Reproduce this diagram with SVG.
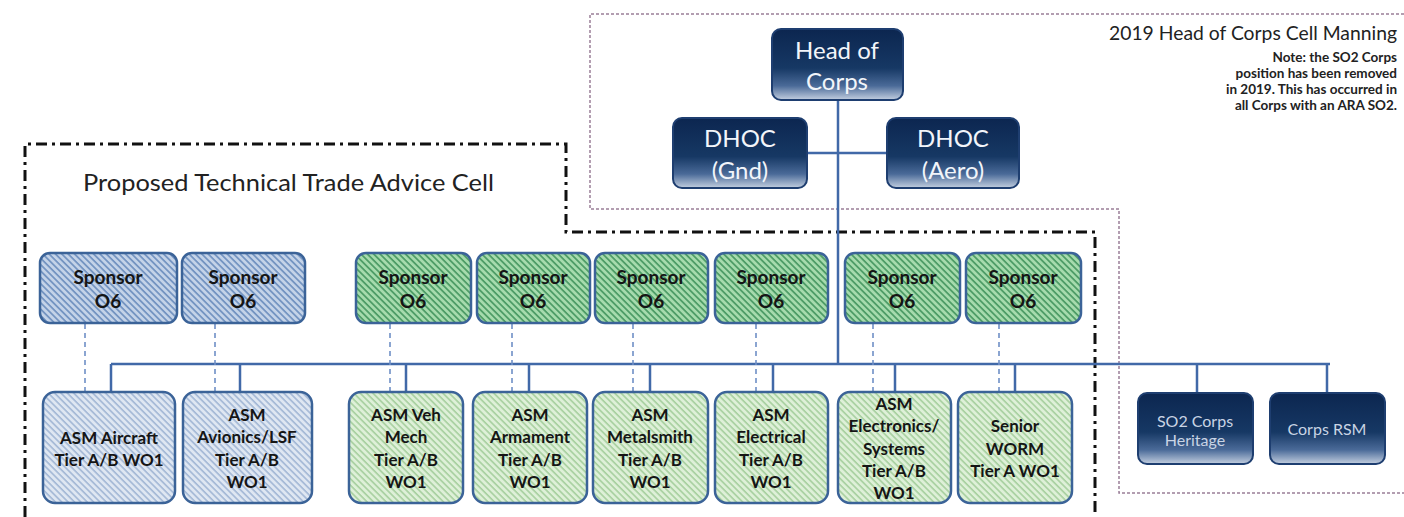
<svg xmlns="http://www.w3.org/2000/svg" width="1404" height="517" viewBox="0 0 1404 517">
<style>
.hb{stroke:#3b6398;stroke-width:2.5}
.dk{stroke:#1e3e70;stroke-width:2}
.st{font-family:Lato,"Liberation Sans",sans-serif;font-weight:bold;fill:#151515;text-anchor:middle}
.s1{font-size:19px}
.s2{font-size:17px}
.wt{font-family:Lato,"Liberation Sans",sans-serif;fill:#f2f5fa;text-anchor:middle}
.big{font-size:24px}
.sm{font-size:16px;fill:#c9d4e4}
.ln{stroke:#4169a8;stroke-width:2.5;fill:none}
.dl{stroke:#6f8fc6;stroke-width:1.6;stroke-dasharray:5 4;fill:none}
.hdr{font-family:Lato,"Liberation Sans",sans-serif;fill:#222}
.note{font-family:Lato,"Liberation Sans",sans-serif;font-size:13.5px;font-weight:bold;fill:#222;text-anchor:end}
</style>
<defs>
<pattern id="pb1" width="4.5" height="4.5" patternUnits="userSpaceOnUse" patternTransform="rotate(45)"><rect width="4.5" height="4.5" fill="#c4d3e8"/><line x1="0" y1="0.8" x2="4.5" y2="0.8" stroke="#7192c0" stroke-width="1.8"/></pattern>
<pattern id="pb2" width="4.5" height="4.5" patternUnits="userSpaceOnUse" patternTransform="rotate(45)"><rect width="4.5" height="4.5" fill="#dfe7f2"/><line x1="0" y1="0.8" x2="4.5" y2="0.8" stroke="#a2b7d5" stroke-width="1.6"/></pattern>
<pattern id="pg1" width="4.5" height="4.5" patternUnits="userSpaceOnUse" patternTransform="rotate(45)"><rect width="4.5" height="4.5" fill="#a6dbad"/><line x1="0" y1="0.8" x2="4.5" y2="0.8" stroke="#4a9a64" stroke-width="1.8"/></pattern>
<pattern id="pg2" width="4.5" height="4.5" patternUnits="userSpaceOnUse" patternTransform="rotate(45)"><rect width="4.5" height="4.5" fill="#def0d8"/><line x1="0" y1="0.8" x2="4.5" y2="0.8" stroke="#a6cf9e" stroke-width="1.6"/></pattern>
<linearGradient id="gd" x1="0" y1="0" x2="0" y2="1">
<stop offset="0" stop-color="#0c2650"/>
<stop offset="0.55" stop-color="#163864"/>
<stop offset="0.8" stop-color="#4a6a98"/>
<stop offset="1" stop-color="#c3cfe0"/>
</linearGradient>
</defs>
<rect width="1404" height="517" fill="#ffffff"/>

<g id="frames">
<path d="M1404,14 H590 V209 H1119 V493 H1404" fill="none" stroke="#9a7f98" stroke-width="1.5" stroke-dasharray="3 2"/>
<path d="M25,517 V144 H566 V232 H1095 V517" fill="none" stroke="#111" stroke-width="3" stroke-dasharray="11 5 3 5"/>
</g>

<g id="labels">
<text class="hdr" x="83" y="191" font-size="24" textLength="411" lengthAdjust="spacingAndGlyphs">Proposed Technical Trade Advice Cell</text>
<text class="hdr" x="1109" y="40" font-size="19" textLength="288" lengthAdjust="spacingAndGlyphs">2019 Head of Corps Cell Manning</text>
<text class="note" x="1397" y="62">Note: the SO2 Corps</text>
<text class="note" x="1397" y="78">position has been removed</text>
<text class="note" x="1397" y="94">in 2019. This has occurred in</text>
<text class="note" x="1397" y="110">all Corps with an ARA SO2.</text>
</g>

<g id="connectors">
<path class="ln" d="M838,100 V364 M807,153 H887 M111,364 H1330"/>
<path class="ln" d="M111,364 V392 M240,364 V392 M406,364 V392 M529,364 V392 M650,364 V392 M773,364 V392 M895,364 V392 M1015,364 V392 M1197,364 V393 M1327,364 V393"/>
<path class="dl" d="M85,324 V392 M215,324 V392 M390,324 V392 M512,324 V392 M633,324 V392 M756,324 V392 M873,324 V392 M999,324 V392"/>
</g>

<g id="head"><rect class="dk" x="772" y="29" width="131" height="71" rx="9" fill="url(#gd)"/><text class="wt big" x="837" y="59">Head of</text><text class="wt big" x="837" y="90">Corps</text></g>
<g id="dhoc-gnd"><rect class="dk" x="673" y="118" width="134" height="70" rx="9" fill="url(#gd)"/><text class="wt big" x="740" y="147">DHOC</text><text class="wt big" x="740" y="179">(Gnd)</text></g>
<g id="dhoc-aero"><rect class="dk" x="887" y="118" width="132" height="70" rx="9" fill="url(#gd)"/><text class="wt big" x="953" y="147">DHOC</text><text class="wt big" x="953" y="179">(Aero)</text></g>
<g id="so2-heritage"><rect class="dk" x="1138" y="393" width="115" height="71" rx="9" fill="url(#gd)"/><text class="wt sm" x="1195" y="427">SO2 Corps</text><text class="wt sm" x="1195" y="446">Heritage</text></g>
<g id="corps-rsm"><rect class="dk" x="1270" y="393" width="115" height="71" rx="9" fill="url(#gd)"/><text class="wt sm" x="1327" y="435">Corps RSM</text></g>

<g id="sponsor1"><rect class="hb" x="40" y="253" width="137" height="70" rx="10" fill="url(#pb1)"/><text class="st s1" x="108" y="284">Sponsor</text><text class="st s1" x="108" y="308">O6</text></g>
<g id="sponsor2"><rect class="hb" x="182" y="253" width="123" height="70" rx="10" fill="url(#pb1)"/><text class="st s1" x="243" y="284">Sponsor</text><text class="st s1" x="243" y="308">O6</text></g>
<g id="sponsor3"><rect class="hb" x="356" y="253" width="115" height="70" rx="10" fill="url(#pg1)"/><text class="st s1" x="413" y="284">Sponsor</text><text class="st s1" x="413" y="308">O6</text></g>
<g id="sponsor4"><rect class="hb" x="477" y="253" width="113" height="70" rx="10" fill="url(#pg1)"/><text class="st s1" x="533" y="284">Sponsor</text><text class="st s1" x="533" y="308">O6</text></g>
<g id="sponsor5"><rect class="hb" x="595" y="253" width="113" height="70" rx="10" fill="url(#pg1)"/><text class="st s1" x="651" y="284">Sponsor</text><text class="st s1" x="651" y="308">O6</text></g>
<g id="sponsor6"><rect class="hb" x="715" y="253" width="113" height="70" rx="10" fill="url(#pg1)"/><text class="st s1" x="771" y="284">Sponsor</text><text class="st s1" x="771" y="308">O6</text></g>
<g id="sponsor7"><rect class="hb" x="845" y="253" width="115" height="70" rx="10" fill="url(#pg1)"/><text class="st s1" x="902" y="284">Sponsor</text><text class="st s1" x="902" y="308">O6</text></g>
<g id="sponsor8"><rect class="hb" x="966" y="253" width="115" height="70" rx="10" fill="url(#pg1)"/><text class="st s1" x="1023" y="284">Sponsor</text><text class="st s1" x="1023" y="308">O6</text></g>

<g id="asm-aircraft"><rect class="hb" x="43" y="392" width="132" height="111" rx="12" fill="url(#pb2)"/><text class="st s2" x="109" y="444">ASM Aircraft</text><text class="st s2" x="109" y="466">Tier A/B WO1</text></g>
<g id="asm-avionics"><rect class="hb" x="183" y="392" width="129" height="111" rx="12" fill="url(#pb2)"/><text class="st s2" x="247" y="421">ASM</text><text class="st s2" x="247" y="443">Avionics/LSF</text><text class="st s2" x="247" y="466">Tier A/B</text><text class="st s2" x="247" y="488">WO1</text></g>
<g id="asm-vehmech"><rect class="hb" x="349" y="392" width="114" height="111" rx="12" fill="url(#pg2)"/><text class="st s2" x="406" y="421">ASM Veh</text><text class="st s2" x="406" y="443">Mech</text><text class="st s2" x="406" y="466">Tier A/B</text><text class="st s2" x="406" y="488">WO1</text></g>
<g id="asm-armament"><rect class="hb" x="473" y="392" width="114" height="111" rx="12" fill="url(#pg2)"/><text class="st s2" x="530" y="421">ASM</text><text class="st s2" x="530" y="443">Armament</text><text class="st s2" x="530" y="466">Tier A/B</text><text class="st s2" x="530" y="488">WO1</text></g>
<g id="asm-metalsmith"><rect class="hb" x="593" y="392" width="115" height="111" rx="12" fill="url(#pg2)"/><text class="st s2" x="650" y="421">ASM</text><text class="st s2" x="650" y="443">Metalsmith</text><text class="st s2" x="650" y="466">Tier A/B</text><text class="st s2" x="650" y="488">WO1</text></g>
<g id="asm-electrical"><rect class="hb" x="715" y="392" width="113" height="111" rx="12" fill="url(#pg2)"/><text class="st s2" x="771" y="421">ASM</text><text class="st s2" x="771" y="443">Electrical</text><text class="st s2" x="771" y="466">Tier A/B</text><text class="st s2" x="771" y="488">WO1</text></g>
<g id="asm-electronics"><rect class="hb" x="838" y="392" width="113" height="111" rx="12" fill="url(#pg2)"/><text class="st s2" x="894" y="410">ASM</text><text class="st s2" x="894" y="432">Electronics/</text><text class="st s2" x="894" y="455">Systems</text><text class="st s2" x="894" y="477">Tier A/B</text><text class="st s2" x="894" y="499">WO1</text></g>
<g id="senior-worm"><rect class="hb" x="958" y="392" width="114" height="111" rx="12" fill="url(#pg2)"/><text class="st s2" x="1015" y="432">Senior</text><text class="st s2" x="1015" y="455">WORM</text><text class="st s2" x="1015" y="477">Tier A WO1</text></g>
</svg>
